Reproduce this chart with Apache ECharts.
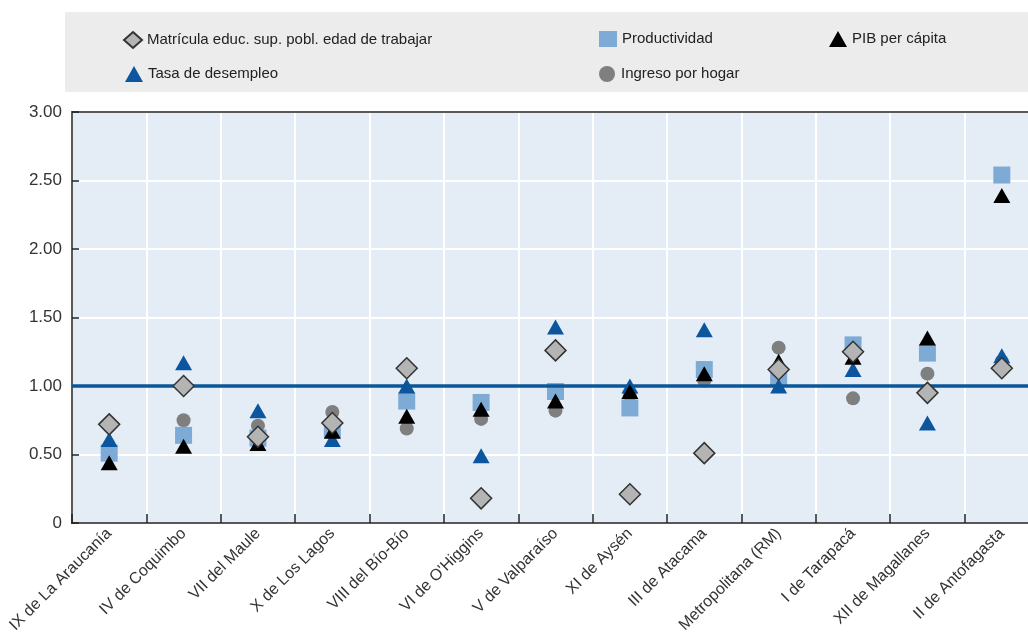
<!DOCTYPE html>
<html>
<head>
<meta charset="utf-8">
<script src="https://cdn.jsdelivr.net/npm/echarts@6/dist/echarts.min.js"></script>
<style>
html,body{margin:0;padding:0;background:#fff;overflow:hidden;}
#chart{width:1040px;height:639px;}
</style>
</head>
<body>
<div id="chart"></div>
<script>
const categories = ["IX de La Araucanía","IV de Coquimbo","VII del Maule","X de Los Lagos","VIII del Bío-Bío","VI de O'Higgins","V de Valparaíso","XI de Aysén","III de Atacama","Metropolitana (RM)","I de Tarapacá","XII de Magallanes","II de Antofagasta"];
const matricula    = [0.72, 1.00, 0.63, 0.73, 1.13, 0.18, 1.26, 0.21, 0.51, 1.12, 1.25, 0.95, 1.13];
const productividad= [0.51, 0.64, 0.62, 0.68, 0.89, 0.88, 0.96, 0.84, 1.12, 1.06, 1.30, 1.24, 2.54];
const pib          = [0.44, 0.56, 0.58, 0.67, 0.78, 0.83, 0.89, 0.96, 1.09, 1.18, 1.21, 1.35, 2.39];
const desempleo    = [0.61, 1.17, 0.82, 0.61, 1.00, 0.49, 1.43, 1.00, 1.41, 1.00, 1.12, 0.73, 1.22];
const ingreso      = [0.71, 0.75, 0.71, 0.81, 0.69, 0.76, 0.82, 0.93, 1.04, 1.28, 0.91, 1.09, 1.18];
const yTicks = ["0","0.50","1.00","1.50","2.00","2.50","3.00"];

const FONT = "'Liberation Sans Narrow','Liberation Sans',Arial,sans-serif";
const names = {
  mat: "Matrícula educ. sup. pobl. edad de trabajar",
  prod: "Productividad",
  pib: "PIB per cápita",
  des: "Tasa de desempleo",
  ing: "Ingreso por hogar"
};
const legendText = {color:'#222', fontFamily:FONT, fontSize:15};
function lg(name, left, top){
  return {data:[name], left:left, top:top, itemWidth:18, itemHeight:16, textStyle:legendText, selectedMode:false};
}
const chart = echarts.init(document.getElementById('chart'));
chart.setOption({
  animation:false,
  backgroundColor:'#ffffff',
  graphic:[
    {type:'rect', shape:{x:65,y:12,width:975,height:80}, style:{fill:'#ececec'}, z:-10, silent:true}
  ],
  legend:[
    lg(names.mat, 118, 26),
    lg(names.prod, 594, 26),
    lg(names.pib, 824, 26),
    lg(names.des, 120, 61),
    lg(names.ing, 594, 61)
  ],
  grid:{left:72, right:1, top:112, bottom:116, show:true, backgroundColor:'#e4edf6', borderWidth:1.5, borderColor:'#222'},
  xAxis:{
    type:'category', data:categories, boundaryGap:true,
    axisLine:{show:true, lineStyle:{color:'#222', width:1.5}},
    axisTick:{show:true, inside:true, length:9, interval:0, lineStyle:{color:'#222', width:1.5}},
    splitLine:{show:true, interval:0, lineStyle:{color:'#ffffff', width:2}},
    axisLabel:{interval:0, rotate:45, color:'#333', fontFamily:FONT, fontSize:16, margin:8}
  },
  yAxis:{
    type:'value', min:0, max:3, interval:0.5,
    axisLine:{show:true, lineStyle:{color:'#222', width:1.5}},
    axisTick:{show:true, inside:true, length:7, lineStyle:{color:'#222', width:1.5}},
    splitLine:{show:true, lineStyle:{color:'#ffffff', width:2}},
    axisLabel:{color:'#333', fontFamily:FONT, fontSize:17, margin:10,
      formatter:function(v){ return yTicks[Math.round(v/0.5)]; }}
  },
  series:[
    {name:'ref', type:'scatter', data:[], z:1, silent:true,
      markLine:{silent:true, symbol:'none', label:{show:false}, animation:false,
        emphasis:{disabled:true},
        data:[
          {yAxis:1, lineStyle:{color:'#0b5699', width:3.5, type:'solid'}},
          {yAxis:3, lineStyle:{color:'#222', width:1.5, type:'solid'}}
        ]}},
    {name:names.ing, type:'scatter', data:ingreso, symbol:'circle', symbolSize:14, z:2,
      itemStyle:{color:'#7f7f7f', opacity:1}, emphasis:{disabled:true}},
    {name:names.prod, type:'scatter', data:productividad, symbol:'rect', symbolSize:17, z:3,
      itemStyle:{color:'#7eaad6', opacity:1}, emphasis:{disabled:true}},
    {name:names.des, type:'scatter', data:desempleo, symbol:'triangle', symbolSize:[17,15], z:4,
      itemStyle:{color:'#0b569f', opacity:1}, emphasis:{disabled:true}},
    {name:names.pib, type:'scatter', data:pib, symbol:'triangle', symbolSize:[17,15], z:5,
      itemStyle:{color:'#000000', opacity:1}, emphasis:{disabled:true}},
    {name:names.mat, type:'scatter', data:matricula, symbol:'diamond', symbolSize:[21,21], z:6,
      itemStyle:{color:'#b4b4b4', borderColor:'#333', borderWidth:1.5, opacity:1}, emphasis:{disabled:true}}
  ]
});
</script>
</body>
</html>
